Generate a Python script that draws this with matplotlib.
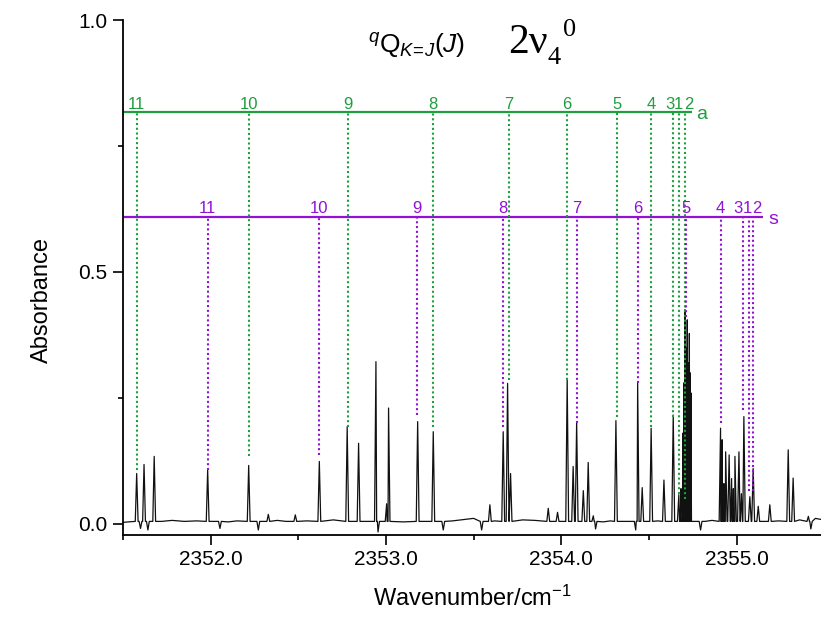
import numpy as np
import matplotlib
matplotlib.use("Agg")
import matplotlib.pyplot as plt
from matplotlib.ticker import MultipleLocator

plt.rcParams["font.family"] = ["Liberation Sans", "DejaVu Sans"]
plt.rcParams["mathtext.fontset"] = "custom"
plt.rcParams["mathtext.rm"] = "Liberation Sans"
plt.rcParams["mathtext.it"] = "Liberation Sans:italic"
plt.rcParams["mathtext.bf"] = "Liberation Sans:bold"

# qQ(K=J) line assignments, a and s components
J_labels = ["11", "10", "9", "8", "7", "6", "5", "4", "3", "1", "2"]
a_wn = [2351.578, 2352.220, 2352.782, 2353.270, 2353.702, 2354.033,
        2354.319, 2354.513, 2354.639, 2354.671, 2354.705]
a_top = [0.107, 0.134, 0.193, 0.193, 0.286, 0.286,
         0.213, 0.193, 0.213, 0.060, 0.050]
s_wn = [2351.983, 2352.620, 2353.179, 2353.669, 2354.088, 2354.436,
        2354.710, 2354.909, 2355.035, 2355.069, 2355.095]
s_top = [0.107, 0.137, 0.216, 0.193, 0.200, 0.280,
         0.410, 0.200, 0.226, 0.065, 0.065]
a_level = 0.817
s_level = 0.61
a_end = 2354.746
s_end = 2355.151

# spectrum: line centres / absorbance (negative = dips)
peak_wn = [2351.578, 2351.600, 2351.620, 2351.642, 2351.678, 2351.983, 2352.053,
           2352.217, 2352.272, 2352.329, 2352.483, 2352.620, 2352.779, 2352.844,
           2352.943, 2352.955, 2353.004, 2353.015, 2353.181, 2353.270, 2353.327,
           2353.546, 2353.593, 2353.669, 2353.694, 2353.711, 2353.926, 2353.979,
           2354.034, 2354.068, 2354.088, 2354.126, 2354.154, 2354.183, 2354.196,
           2354.312, 2354.425, 2354.436, 2354.462, 2354.513, 2354.586, 2354.639,
           2354.671, 2354.683, 2354.693, 2354.700, 2354.706, 2354.710, 2354.714,
           2354.719, 2354.723, 2354.727, 2354.731, 2354.735, 2354.740, 2354.795,
           2354.909, 2354.918, 2354.928, 2354.938, 2354.958, 2354.972, 2354.982,
           2354.991, 2355.014, 2355.028, 2355.042, 2355.076, 2355.095, 2355.124,
           2355.190, 2355.295, 2355.323, 2355.410, 2355.424]
peak_abs = [0.100, -0.009, 0.118, -0.012, 0.134, 0.107, -0.009,
            0.116, -0.012, 0.019, 0.018, 0.124, 0.193, 0.160,
            0.322, -0.016, 0.040, 0.230, 0.203, 0.183, -0.012,
            -0.012, 0.038, 0.183, 0.279, 0.100, 0.031, 0.023,
            0.289, 0.114, 0.203, 0.066, 0.122, 0.016, -0.010,
            0.205, -0.012, 0.279, 0.072, 0.190, 0.087, 0.216,
            0.058, 0.070, 0.180, 0.280, 0.425, 0.300, 0.350,
            0.405, 0.290, 0.320, 0.378, 0.300, 0.260, -0.012,
            0.190, 0.167, 0.080, 0.143, 0.137, 0.090, 0.070,
            0.134, 0.143, 0.060, 0.213, 0.054, 0.110, 0.035,
            0.038, 0.147, 0.091, 0.015, -0.010]

base_wn = [2351.50, 2351.53, 2351.72, 2351.78, 2351.85, 2351.92, 2352.10, 2352.15,
           2352.38, 2352.43, 2352.55, 2352.70, 2353.10, 2353.38, 2353.45, 2353.50,
           2353.62, 2353.78, 2353.85, 2354.24, 2354.28, 2354.38, 2354.55, 2354.82,
           2354.86, 2355.16, 2355.24, 2355.36, 2355.45, 2355.48]
base_abs = [0.003, 0.004, 0.005, 0.007, 0.005, 0.006, 0.004, 0.006,
            0.007, 0.005, 0.006, 0.008, 0.004, 0.006, 0.009, 0.011,
            0.006, 0.008, 0.007, 0.004, 0.006, 0.005, 0.006, 0.005,
            0.007, 0.005, 0.006, 0.008, 0.011, 0.009]

green = "#1e9e3e"
purple = "#9212d4"

# build the trace as narrow spikes on the baseline
hw = 0.008
foot = 0.005
pts = [(w, b) for w, b in zip(base_wn, base_abs)
       if all(abs(w - p) > hw for p in peak_wn)]
for w, a in zip(peak_wn, peak_abs):
    pts += [(w - hw, foot), (w, a), (w + hw, foot)]
pts.sort()
tx = np.array([p[0] for p in pts])
ty = np.array([p[1] for p in pts])

fig = plt.figure(figsize=(8.21, 6.19), dpi=100)
ax = fig.add_axes([123 / 821, 84 / 619, 698 / 821, 515 / 619])

ax.plot(tx, ty, color="#111111", lw=0.9)

# assignment combs
dots = (0, (1, 1.3))
ax.plot([2351.5, a_end], [a_level, a_level], color=green, lw=1.6, solid_capstyle="butt")
ax.plot([2351.5, s_end], [s_level, s_level], color=purple, lw=1.6, solid_capstyle="butt")
ax.vlines(a_wn, a_top, a_level, colors=green, linestyles=dots, lw=1.5)
ax.vlines(s_wn, s_top, s_level, colors=purple, linestyles=dots, lw=1.5)

a_nudge = {"3": -2.6, "1": 0.0, "2": 2.6}
s_nudge = {"3": -3.4, "1": -0.9, "2": 2.7}
for lbl, w in zip(J_labels, a_wn):
    ax.annotate(lbl, (w, a_level), xytext=(a_nudge.get(lbl, 0), 0.5),
                textcoords="offset points", ha="center", va="bottom",
                color=green, fontsize=12)
for lbl, w in zip(J_labels, s_wn):
    ax.annotate(lbl, (w, s_level), xytext=(s_nudge.get(lbl, 0), 0.5),
                textcoords="offset points", ha="center", va="bottom",
                color=purple, fontsize=12)
ax.annotate("a", (a_end, a_level), xytext=(3, -2), textcoords="offset points",
            ha="left", va="center", color=green, fontsize=14)
ax.annotate("s", (s_end, s_level), xytext=(4, -2), textcoords="offset points",
            ha="left", va="center", color=purple, fontsize=14)

ax.set_xlim(2351.5, 2355.482)
ax.set_ylim(-0.022, 1.0)
ax.set_xticks([2352, 2353, 2354, 2355])
ax.set_xticklabels(["2352.0", "2353.0", "2354.0", "2355.0"])
ax.set_yticks([0.0, 0.5, 1.0])
ax.set_yticklabels(["0.0", "0.5", "1.0"])
ax.xaxis.set_minor_locator(MultipleLocator(0.5))
ax.yaxis.set_minor_locator(MultipleLocator(0.25))
ax.tick_params(which="major", direction="out", length=7, width=1.2, labelsize=15, pad=4)
ax.tick_params(which="minor", direction="out", length=3.5, width=1.2)
for side in ["top", "right"]:
    ax.spines[side].set_visible(False)
for side in ["left", "bottom"]:
    ax.spines[side].set_linewidth(1.3)

ax.set_xlabel("Wavenumber/cm$^{-1}$", fontsize=17, labelpad=12)
ax.set_ylabel("Absorbance", fontsize=17)
ax.yaxis.set_label_coords(-0.100, 0.456)

# band labels
fig.text(368 / 821, 1 - 53 / 619, r"$^{q}\mathrm{Q}_{K\!=\!J}(J)$", fontsize=19,
         ha="left", va="baseline")
fig.text(508 / 821, 1 - 53 / 619, "2\u03bd", fontsize=30, family="Liberation Serif",
         ha="left", va="baseline")
fig.text(548 / 821, 1 - 64 / 619, "4", fontsize=19, family="Liberation Serif",
         ha="left", va="baseline")
fig.text(563 / 821, 1 - 36 / 619, "0", fontsize=19, family="Liberation Serif",
         ha="left", va="baseline")

fig.savefig("out.png", dpi=100)
